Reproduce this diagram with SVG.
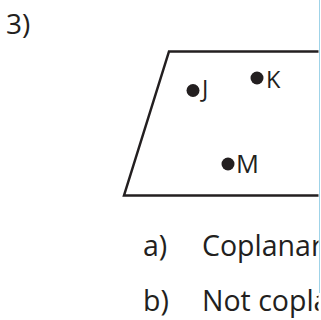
<svg xmlns="http://www.w3.org/2000/svg" width="321" height="320" viewBox="0 0 321 320">
<defs>
<clipPath id="cut"><rect x="0" y="0" width="318.5" height="320"/></clipPath>
<style>
text{font-family:"Open Sans","Noto Sans","Liberation Sans",sans-serif;fill:#231f20}
.pt{fill:#231f20}
.lbl{font-size:23.5px}
.ans{font-size:28.5px}
</style>
</defs>
<rect width="321" height="320" fill="#fff"/>
<g clip-path="url(#cut)">
<text x="6" y="34" style="font-size:28px">3)</text>
<g id="plane"><path d="M330 51.5 H169 L124 195.5 H330" fill="none" stroke="#231f20" stroke-width="2.5" stroke-linejoin="miter"/></g>
<g id="J"><circle class="pt" cx="193" cy="90.5" r="6.5"/><text class="lbl" x="202" y="97">J</text></g>
<g id="K"><circle class="pt" cx="257" cy="78" r="6.5"/><text class="lbl" x="266" y="88">K</text></g>
<g id="M"><circle class="pt" cx="228" cy="164" r="6.5"/><text class="lbl" x="236" y="172.5" style="font-size:25.5px">M</text></g>
<g id="a"><text class="ans" x="143" y="256">a)</text><text class="ans" x="202" y="256">Coplanar</text></g>
<g id="b"><text class="ans" x="143" y="311">b)</text><text class="ans" x="202" y="311">Not coplanar</text></g>
</g>
<line x1="319.5" y1="0" x2="319.5" y2="293" stroke="#9fd3e8" stroke-width="1"/>
</svg>
